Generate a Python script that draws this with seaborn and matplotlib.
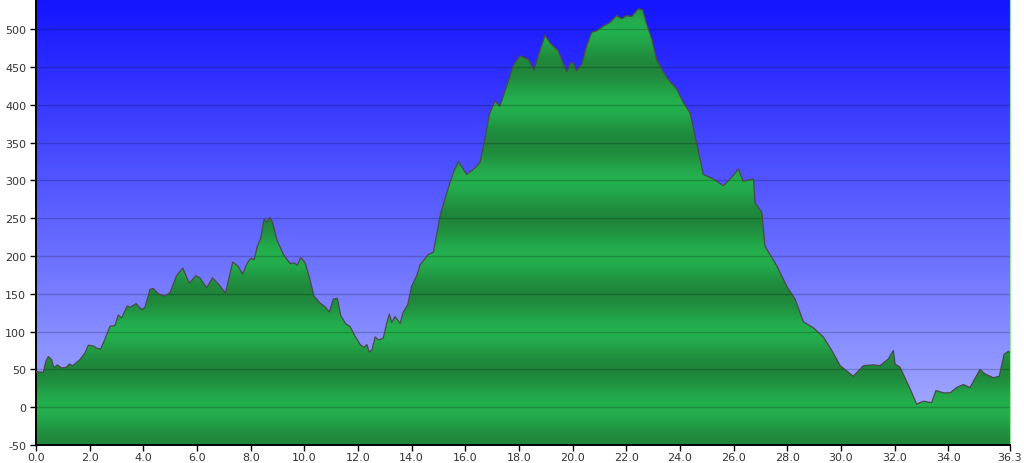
import numpy as np
import matplotlib
matplotlib.use("Agg")
import matplotlib.pyplot as plt
from matplotlib.path import Path
from matplotlib.patches import PathPatch
import seaborn as sns

# -----------------------------
# DATA (distance km, elevation m)
# -----------------------------
dist = [0.0, 0.05, 0.27, 0.37, 0.46, 0.58, 0.67, 0.79, 0.96, 1.14, 1.24, 1.37,
        1.64, 1.83, 1.95, 2.14, 2.26, 2.41, 2.57, 2.76, 2.94, 3.07, 3.19, 3.40,
        3.50, 3.73, 3.94, 4.06, 4.25, 4.37, 4.56, 4.81, 5.00, 5.24, 5.47, 5.71,
        5.96, 6.11, 6.36, 6.58, 6.80, 7.06, 7.33, 7.54, 7.70, 7.85, 8.00, 8.13,
        8.25, 8.37, 8.50, 8.60, 8.72, 8.82, 8.97, 9.22, 9.47, 9.62, 9.74, 9.87,
        10.03, 10.21, 10.36, 10.58, 10.77, 10.93, 11.08, 11.23, 11.36, 11.55,
        11.70, 11.89, 12.08, 12.22, 12.33, 12.42, 12.52, 12.64, 12.76, 12.94,
        13.07, 13.17, 13.26, 13.38, 13.57, 13.69, 13.85, 14.00, 14.19, 14.31,
        14.62, 14.81, 15.06, 15.31, 15.55, 15.74, 16.05, 16.24, 16.43, 16.55,
        16.73, 16.90, 17.11, 17.29, 17.54, 17.79, 18.04, 18.35, 18.56, 18.72,
        18.97, 19.16, 19.47, 19.59, 19.78, 19.93, 20.03, 20.15, 20.34, 20.52,
        20.71, 20.90, 21.14, 21.39, 21.64, 21.83, 22.01, 22.20, 22.45, 22.61,
        22.74, 22.95, 23.13, 23.51, 23.88, 24.13, 24.38, 24.62, 24.87, 25.24,
        25.62, 25.87, 26.18, 26.36, 26.74, 26.80, 27.05, 27.17, 27.61, 27.98,
        28.29, 28.60, 28.97, 29.34, 29.66, 29.97, 30.46, 30.84, 31.21, 31.46,
        31.77, 31.95, 32.02, 32.20, 32.58, 32.82, 33.07, 33.38, 33.54, 33.82,
        34.07, 34.31, 34.56, 34.81, 35.18, 35.37, 35.68, 35.90, 36.08, 36.24,
        36.30]
elev = [46, 47, 46, 61, 67, 63, 52, 56, 52, 53, 57, 55,
        63, 72, 82, 81, 78, 77, 90, 107, 108, 122, 118, 134,
        132, 137, 129, 132, 156, 157, 150, 147, 152, 174, 184, 164,
        174, 171, 158, 171, 163, 151, 192, 186, 176, 189, 197, 195,
        213, 223, 249, 245, 251, 244, 222, 202, 190, 191, 188, 198,
        191, 169, 147, 138, 133, 126, 143, 144, 121, 110,
        107, 94, 83, 79, 83, 73, 76, 93, 89, 91,
        111, 123, 112, 120, 111, 126, 135, 160, 174, 188,
        202, 205, 253, 284, 310, 325, 308, 313, 319, 324,
        355, 388, 405, 398, 425, 452, 465, 460, 446, 465,
        492, 482, 471, 460, 444, 456, 455, 445, 454, 478,
        496, 498, 504, 509, 518, 514, 518, 517, 527, 526,
        509, 487, 460, 436, 421, 403, 389, 350, 308, 302,
        293, 302, 315, 299, 302, 270, 258, 213, 187, 160,
        143, 113, 105, 93, 75, 55, 41, 55, 56, 55,
        64, 75, 57, 53, 24, 4, 8, 6, 22, 19,
        19, 26, 30, 26, 50, 44, 39, 41, 70, 74,
        72]

x_ticks = [0, 2, 4, 6, 8, 10, 12, 14, 16, 18, 20, 22, 24, 26, 28, 30, 32, 34, 36.3]
y_ticks = [-50, 0, 50, 100, 150, 200, 250, 300, 350, 400, 450, 500]

x_max = 36.3
y_min, y_max = -50, 540

# -----------------------------
# STYLE
# -----------------------------
sns.set_style("white")
plt.rcParams["font.family"] = ["DejaVu Sans"]

fig = plt.figure(figsize=(10.24, 4.64), dpi=100)
fig.patch.set_facecolor("white")
ax = fig.add_axes([36 / 1024, 18 / 464, 974 / 1024, 446 / 464])

# sky gradient (top dark blue -> light lavender)
n = 400
t = np.linspace(0, 1, n)[:, None]
top = np.array([20, 20, 255]) / 255
bot = np.array([172, 180, 255]) / 255
sky = top + (bot - top) * t
ax.imshow(sky[:, None, :].repeat(2, axis=1), extent=[0, x_max, y_min, y_max],
          aspect="auto", zorder=0, interpolation="bilinear")

# green banded fill (bright at every 100 m, dark at the 50s)
vals = np.linspace(y_max, y_min, 1200)
w = 0.5 + 0.5 * np.cos(2 * np.pi * vals / 100.0)
bright = np.array([36, 176, 78]) / 255
dark = np.array([31, 134, 59]) / 255
green = dark + (bright - dark) * w[:, None]
im = ax.imshow(green[:, None, :].repeat(2, axis=1), extent=[0, x_max, y_min, y_max],
               aspect="auto", zorder=1, interpolation="bilinear")

verts = [(dist[0], y_min)] + list(zip(dist, elev)) + [(dist[-1], y_min), (dist[0], y_min)]
clip = PathPatch(Path(verts, closed=True), transform=ax.transData,
                 facecolor="none", edgecolor="none")
ax.add_patch(clip)
im.set_clip_path(clip)

# outline of the profile
sns.lineplot(x=dist, y=elev, color="#4a4a4a", lw=0.9, estimator=None,
             sort=False, ax=ax, zorder=3)

ax.set_xlim(0, x_max)
ax.set_ylim(y_min, y_max)

ax.set_axisbelow(False)
ax.set_yticks(y_ticks)
ax.set_yticklabels([str(v) for v in y_ticks])
ax.set_xticks(x_ticks)
ax.set_xticklabels([f"{v:.1f}" for v in x_ticks])
ax.grid(axis="y", color="black", alpha=0.2, lw=1.0)
ax.grid(axis="x", visible=False)

ax.tick_params(axis="both", direction="out", length=4, width=1, color="black",
               labelsize=8, labelcolor="#333333", left=True, bottom=True)
ax.tick_params(axis="y", pad=3)
ax.tick_params(axis="x", pad=1)

for side in ["left", "bottom"]:
    ax.spines[side].set_color("black")
    ax.spines[side].set_linewidth(1.4)
ax.spines["top"].set_visible(False)
ax.spines["right"].set_color("#9be09b")
ax.spines["right"].set_linewidth(0.8)

ax.set_xlabel("")
ax.set_ylabel("")

fig.savefig("out.png", dpi=100)
